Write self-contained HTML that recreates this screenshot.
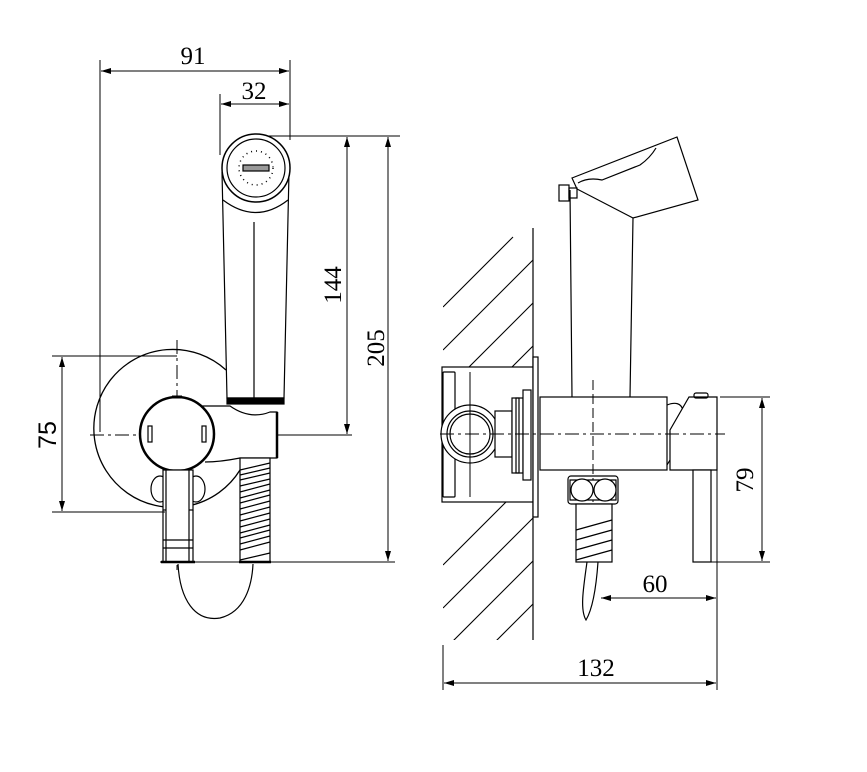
<!DOCTYPE html>
<html><head><meta charset="utf-8"><style>html,body{margin:0;padding:0;background:#fff}svg{display:block}</style></head>
<body>
<svg width="867" height="772" viewBox="0 0 867 772" xmlns="http://www.w3.org/2000/svg" fill="none" stroke="#000" stroke-width="1.2">
<defs>
<marker id="a" viewBox="0 0 10 6" refX="10" refY="3" markerWidth="10" markerHeight="6" orient="auto-start-reverse"><path d="M0,0 L10,3 L0,6 Z" fill="#000" stroke="none"/></marker>
<clipPath id="w1"><rect x="443" y="228" width="90" height="139"/></clipPath>
<clipPath id="w2"><rect x="443" y="502" width="90" height="138"/></clipPath>
</defs>
<g font-family="Liberation Serif, serif" font-size="25" fill="#000" stroke="none">
<text x="193" y="64" text-anchor="middle">91</text>
<text x="254" y="99" text-anchor="middle">32</text>
<text transform="translate(341,285) rotate(-90)" text-anchor="middle">144</text>
<text transform="translate(384,348) rotate(-90)" text-anchor="middle">205</text>
<text transform="translate(56,435) rotate(-90)" text-anchor="middle" font-family="Liberation Sans, sans-serif">75</text>
<text transform="translate(753,480) rotate(-90)" text-anchor="middle">79</text>
<text x="655" y="592" text-anchor="middle">60</text>
<text x="596" y="676" text-anchor="middle">132</text>
</g>
<!-- left dims -->
<g stroke-width="1">
<line x1="100" y1="60" x2="100" y2="432"/>
<line x1="290" y1="60" x2="290" y2="140"/>
<line x1="101" y1="71" x2="289" y2="71" marker-start="url(#a)" marker-end="url(#a)"/>
<line x1="220" y1="94" x2="220" y2="155"/>
<line x1="221" y1="104" x2="289" y2="104" marker-start="url(#a)" marker-end="url(#a)"/>
<line x1="256" y1="136" x2="400" y2="136"/>
<line x1="347" y1="137" x2="347" y2="434" marker-start="url(#a)" marker-end="url(#a)"/>
<line x1="388" y1="137" x2="388" y2="561" marker-start="url(#a)" marker-end="url(#a)"/>
<line x1="270" y1="435" x2="352" y2="435"/>
<line x1="160" y1="562" x2="395" y2="562"/>
<line x1="52" y1="356" x2="177" y2="356"/>
<line x1="52" y1="512" x2="165" y2="512"/>
<line x1="62" y1="357" x2="62" y2="511" marker-start="url(#a)" marker-end="url(#a)"/>
<line x1="90" y1="435" x2="275" y2="435" stroke-dasharray="14,4,3,4"/>
<line x1="177" y1="340" x2="177" y2="570" stroke-dasharray="14,4,3,4"/>
</g>
<!-- left: shower -->
<path d="M222 172 L227 398 L284 398 L289 172"/>
<path d="M223 200 Q256 225 288 200"/>
<line x1="254" y1="222" x2="254" y2="398"/>
<circle cx="256" cy="168" r="34" fill="#fff" stroke-width="1.5"/>
<circle cx="256" cy="168" r="29"/>
<circle cx="256" cy="168" r="17" stroke-dasharray="1,4" stroke-width="1.5"/>
<rect x="243" y="165" width="26" height="6" fill="#999"/>
<rect x="227" y="398" width="57" height="6" fill="#000"/>
<!-- left: body -->
<path d="M226 370 A79 79 0 1 0 240 470" stroke-width="1.3"/>
<path d="M200 406 L230 406 Q250 420 270 412 L277 412 L277 458 L240 458 Q220 462 205 462" fill="#fff"/>
<line x1="277" y1="412" x2="277" y2="458" stroke-width="2.5"/>
<circle cx="177" cy="434" r="37" fill="#fff" stroke-width="2.5"/>
<rect x="148" y="426" width="4" height="16"/><rect x="202" y="426" width="4" height="16"/>
<path d="M172 397 L182 397" stroke-width="3"/>
<ellipse cx="160" cy="489" rx="9" ry="13"/><ellipse cx="196" cy="489" rx="9" ry="13"/>
<rect x="163" y="470" width="30" height="40" fill="#fff"/>
<rect x="166" y="470" width="23" height="92" fill="#fff"/>
<path d="M163 510 L163 562 M193 510 L193 562 M163 540 L193 540 M163 548 L193 548"/>
<line x1="161" y1="562" x2="195" y2="562" stroke-width="2.5"/>
<rect x="240" y="458" width="30" height="104" fill="#fff"/>
<g stroke-width="1.2">
<path d="M240 470 L270 463 M240 480 L270 473 M240 492 L270 484 M240 503 L270 495 M240 515 L270 507 M240 527 L270 519 M240 538 L270 530 M240 550 L270 542 M240 560 L270 553"/>
<path d="M240 475 L270 468 M240 486 L270 479 M240 498 L270 490 M240 509 L270 501 M240 521 L270 513 M240 533 L270 525 M240 544 L270 536"/>
</g>
<line x1="239" y1="562" x2="271" y2="562" stroke-width="2.5"/>
<path d="M178 564 C180 600 195 622 220 618 C245 612 252 585 253 564"/>
<!-- right: wall -->
<line x1="533" y1="228" x2="533" y2="640"/>
<g stroke-width="1.1" clip-path="url(#w1)">
<path d="M443 307 L513 237 M443 350 L533 260 M443 393 L533 303 M443 436 L533 346 M443 479 L533 389"/>
</g>
<g stroke-width="1.1" clip-path="url(#w2)">
<path d="M443 565 L533 475 M443 608 L533 518 M443 651 L533 561 M443 694 L533 604 M443 737 L533 647"/>
</g>
<!-- connector -->
<rect x="442" y="367" width="91" height="135" fill="#fff"/>
<rect x="443" y="372" width="12" height="125" rx="1" fill="#fff"/>
<circle cx="470" cy="434" r="29" fill="#fff"/>
<circle cx="470" cy="434" r="23"/><circle cx="470" cy="434" r="20"/>
<rect x="495" y="411" width="17" height="46" fill="#fff"/>
<rect x="512" y="398" width="11" height="75" fill="#fff"/>
<rect x="516" y="398" width="3" height="75"/>
<rect x="523" y="390" width="8" height="90" fill="#fff"/>
<rect x="533" y="357" width="5" height="160" fill="#fff"/>
<line x1="470" y1="372" x2="470" y2="497" stroke-width="1"/>
<!-- right body -->
<path d="M572 397 L570 190 M630 397 L633 218"/>
<path d="M572 178 L677 137 L698 200 L633 218 L577 189 Z" fill="#fff"/>
<path d="M578 183 Q588 177 602 180 L640 165 Q650 158 656 148"/>
<rect x="559" y="185" width="10" height="16"/><rect x="569" y="188" width="8" height="10"/>
<rect x="540" y="397" width="127" height="73" fill="#fff"/>
<path d="M667 405 Q680 400 683 410 L670 460 L667 465"/>
<path d="M689 397 L717 397 L717 470 L670 470 L670 430 Z" fill="#fff"/>
<rect x="694" y="393" width="14" height="5" rx="2"/>
<rect x="693" y="470" width="18" height="92" fill="#fff"/>
<line x1="440" y1="434" x2="725" y2="434" stroke-dasharray="14,4,3,4" stroke-width="1"/>
<line x1="593" y1="380" x2="593" y2="510" stroke-dasharray="10,4" stroke-width="1"/>
<!-- nut & hose -->
<path d="M570 480 L616 480 L616 500 L570 500 Z" fill="#fff"/>
<circle cx="582" cy="490" r="11" fill="#fff"/><circle cx="605" cy="490" r="11" fill="#fff"/>
<rect x="568" y="476" width="50" height="28" rx="3"/>
<rect x="576" y="504" width="36" height="58" fill="#fff"/>
<path d="M576 530 L612 520 M576 540 L612 530 M576 550 L612 540 M576 560 L612 550"/>
<path d="M587 562 C583 590 580 610 586 620 C592 610 596 590 598 562"/>
<!-- right dims -->
<g stroke-width="1">
<line x1="720" y1="397" x2="770" y2="397"/>
<line x1="711" y1="562" x2="770" y2="562"/>
<line x1="762" y1="398" x2="762" y2="561" marker-start="url(#a)" marker-end="url(#a)"/>
<line x1="717" y1="400" x2="717" y2="690"/>
<line x1="443" y1="645" x2="443" y2="690"/>
<line x1="601" y1="598" x2="716" y2="598" marker-start="url(#a)" marker-end="url(#a)"/>
<line x1="444" y1="683" x2="716" y2="683" marker-start="url(#a)" marker-end="url(#a)"/>
</g>
</svg>
</body></html>
